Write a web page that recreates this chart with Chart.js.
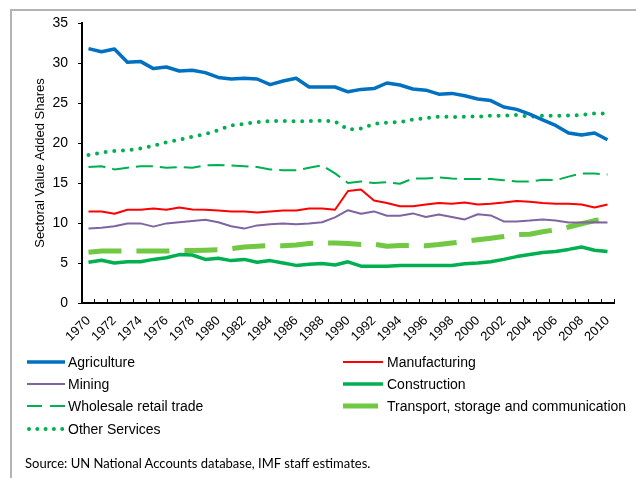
<!DOCTYPE html>
<html>
<head>
<meta charset="utf-8">
<script src="https://cdn.jsdelivr.net/npm/chart.js@4.4.0/dist/chart.umd.min.js"></script>
<style>
  body { margin: 0; background: #fff; }
  #wrap { position: relative; width: 636px; height: 478px; overflow: hidden; font-family: "Liberation Sans", Arial, sans-serif; }
  #frame { position: absolute; left: 10px; top: 9px; right: -5px; bottom: -5px; border-top: 2px solid #b4b4b4; border-left: 2px solid #b4b4b4; }
  .item { position: absolute; height: 16px; display: flex; align-items: center; font-size: 14px; color: #000; white-space: nowrap; }
  .item svg { margin-right: 3px; }
  #source { position: absolute; left: 25px; top: 455px; font-family: Lato, sans-serif; font-size: 13px; color: #000; }
</style>
</head>
<body>
<div id="wrap">
  <canvas id="sector-chart" width="636" height="478"></canvas>
  <div id="frame"></div>
  <div id="legend"></div>
  <div id="source">Source: UN National Accounts database, IMF staff estimates.</div>
</div>
<script>
const years = [
  "1970","1971","1972","1973","1974","1975","1976","1977","1978","1979",
  "1980","1981","1982","1983","1984","1985","1986","1987","1988","1989",
  "1990","1991","1992","1993","1994","1995","1996","1997","1998","1999",
  "2000","2001","2002","2003","2004","2005","2006","2007","2008","2009","2010"
];

const agriculture = [31.8,31.4,31.75,30.1,30.2,29.3,29.5,29.0,29.1,28.8,28.2,28.0,28.1,28.0,27.3,27.75,28.1,27.0,27.0,27.0,26.4,26.7,26.8,27.5,27.25,26.75,26.6,26.1,26.2,25.9,25.5,25.3,24.5,24.2,23.6,22.9,22.2,21.25,21.0,21.25,20.4];
const manufacturing = [11.45,11.45,11.15,11.65,11.65,11.8,11.65,11.95,11.7,11.65,11.55,11.45,11.45,11.3,11.45,11.55,11.55,11.8,11.8,11.65,14.0,14.2,12.8,12.5,12.1,12.1,12.3,12.5,12.4,12.55,12.3,12.4,12.55,12.75,12.65,12.5,12.4,12.4,12.3,11.95,12.3];
const mining = [9.3,9.4,9.6,9.95,9.95,9.55,9.95,10.1,10.25,10.4,10.1,9.6,9.3,9.7,9.85,9.95,9.85,9.95,10.1,10.7,11.6,11.15,11.45,10.9,10.9,11.2,10.75,11.05,10.75,10.45,11.1,10.95,10.2,10.2,10.3,10.45,10.3,10.05,10.05,10.1,10.05];
const construction = [5.1,5.35,5.0,5.15,5.15,5.45,5.65,6.05,6.0,5.45,5.6,5.3,5.45,5.1,5.3,5.0,4.7,4.85,4.95,4.75,5.15,4.6,4.6,4.6,4.7,4.7,4.7,4.7,4.7,4.9,5.0,5.15,5.45,5.8,6.05,6.3,6.45,6.7,7.0,6.6,6.45];
const wholesale = [17.0,17.1,16.7,16.9,17.1,17.1,16.9,17.0,16.9,17.2,17.25,17.2,17.1,17.0,16.7,16.6,16.6,16.9,17.2,16.2,15.0,15.2,15.0,15.1,14.9,15.55,15.55,15.7,15.55,15.5,15.5,15.5,15.35,15.2,15.2,15.4,15.35,15.8,16.2,16.2,16.05];
const transport = [6.35,6.5,6.5,6.5,6.5,6.5,6.5,6.55,6.55,6.6,6.65,6.8,7.0,7.1,7.2,7.15,7.25,7.45,7.5,7.5,7.45,7.3,7.35,7.1,7.2,7.2,7.15,7.3,7.5,7.7,7.9,8.1,8.3,8.55,8.6,8.9,9.15,9.5,9.9,10.3,10.5];
const otherServices = [18.5,18.8,19.0,19.1,19.3,19.65,20.1,20.4,20.8,21.1,21.6,22.2,22.4,22.6,22.75,22.75,22.7,22.75,22.8,22.7,21.7,21.8,22.4,22.55,22.6,22.95,23.1,23.3,23.25,23.3,23.3,23.4,23.4,23.5,23.3,23.4,23.4,23.45,23.5,23.7,23.7];

const yTicks = [0, 5, 10, 15, 20, 25, 30, 35];

// series styling, legend order is row by row (two columns)
const series = [
  { name: "Agriculture", data: agriculture, color: "#0070C0", width: 3.5, dash: [], cap: "butt", legendDash: "" },
  { name: "Manufacturing", data: manufacturing, color: "#FF0000", width: 2, dash: [], cap: "butt", legendDash: "" },
  { name: "Mining", data: mining, color: "#8064A2", width: 2, dash: [], cap: "butt", legendDash: "" },
  { name: "Construction", data: construction, color: "#00B050", width: 3.5, dash: [], cap: "butt", legendDash: "" },
  { name: "Wholesale retail trade", data: wholesale, color: "#00B050", width: 2, dash: [17, 7], cap: "butt", legendDash: "15 8" },
  { name: "Transport, storage and communication", data: transport, color: "#70C843", width: 5, dash: [33, 15], cap: "butt", legendDash: "35 20" },
  { name: "Other Services", data: otherServices, color: "#00B050", width: 4, dash: [0, 8.7], cap: "round", legendDash: "0 8.3" }
];

Chart.defaults.font.family = '"Liberation Sans", Arial, sans-serif';
Chart.defaults.color = '#000';

const ctx = document.getElementById('sector-chart').getContext('2d');
new Chart(ctx, {
  type: 'line',
  data: {
    labels: years,
    datasets: series.map(s => ({
      label: s.name,
      data: s.data,
      borderColor: s.color,
      backgroundColor: s.color,
      borderWidth: s.width,
      borderDash: s.dash,
      borderCapStyle: s.cap,
      borderJoinStyle: 'round',
      pointRadius: 0,
      tension: 0,
      fill: false
    }))
  },
  options: {
    responsive: false,
    animation: false,
    layout: { padding: { left: 14, top: 23, right: 22, bottom: 0 } },
    plugins: { legend: { display: false }, tooltip: { enabled: false } },
    scales: {
      x: {
        offset: true,
        grid: { offset: true, drawOnChartArea: false, tickLength: -4, color: '#000', lineWidth: 1 },
        border: { color: '#000', width: 2 },
        ticks: {
          autoSkip: false, minRotation: 45, maxRotation: 45, padding: 14,
          font: { size: 13 },
          callback: (v, i) => (i % 2 === 0 ? years[i] : '')
        },
        afterFit: s => { s.height = 175; }
      },
      y: {
        min: 0, max: 35,
        afterBuildTicks: s => { s.ticks = yTicks.map(v => ({ value: v })); },
        ticks: { font: { size: 14 }, padding: 10 },
        grid: { drawOnChartArea: false, tickLength: 4, color: '#000' },
        border: { color: '#000', width: 2 },
        title: { display: true, text: 'Sectoral Value Added Shares', font: { size: 13 }, padding: { top: 19, bottom: 0 } },
        afterFit: s => { s.width = 68; }
      }
    }
  }
});

// legend, two columns
const legendCols = [27, 343];
const legendRows = [362, 384, 406, 429];
const legend = document.getElementById('legend');
series.forEach((s, i) => {
  const col = i % 2, row = Math.floor(i / 2);
  const lw = col === 0 ? 38 : 40;
  const item = document.createElement('div');
  item.className = 'item';
  item.style.left = legendCols[col] + 'px';
  item.style.top = (legendRows[row] - 8) + 'px';
  const x1 = s.cap === 'round' ? 2 : 0;
  item.innerHTML =
    '<svg width="' + (lw + (col ? 1 : 0)) + '" height="10">' +
    '<line x1="' + x1 + '" y1="5" x2="' + lw + '" y2="5" stroke="' + s.color + '" stroke-width="' + s.width +
    '" stroke-linecap="' + s.cap + '"' + (s.legendDash ? ' stroke-dasharray="' + s.legendDash + '"' : '') + '/></svg>' +
    '<span>' + s.name + '</span>';
  legend.appendChild(item);
});
</script>
</body>
</html>
